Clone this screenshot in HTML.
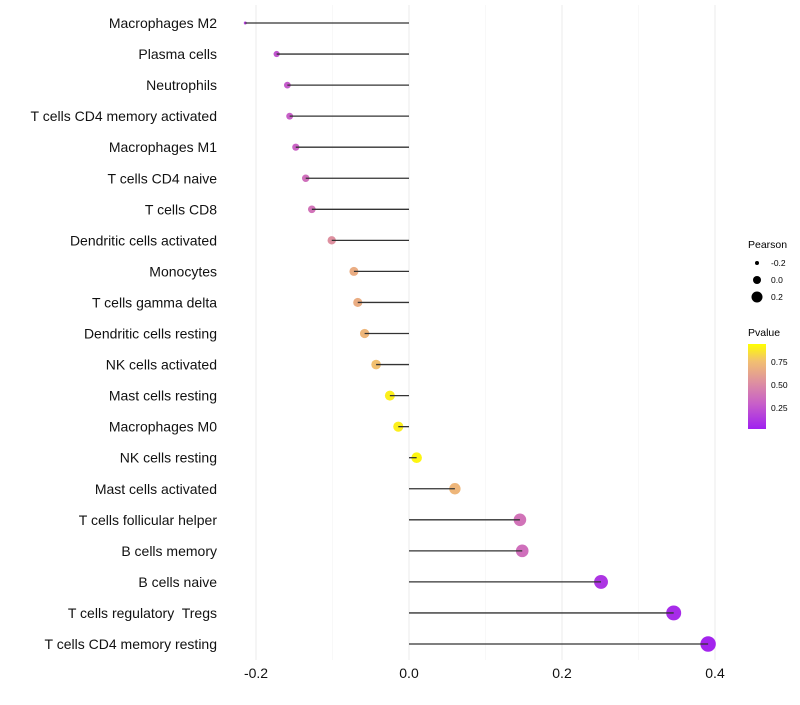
<!DOCTYPE html>
<html><head><meta charset="utf-8"><style>
body{margin:0;background:#fff;font-family:"Liberation Sans",sans-serif}
</style></head><body>
<svg id="chart" width="800" height="700" xmlns="http://www.w3.org/2000/svg">
<defs><linearGradient id="pg" x1="0" y1="1" x2="0" y2="0">
<stop offset="0" stop-color="#a020f0"/><stop offset="0.3" stop-color="#c860c8"/><stop offset="0.55" stop-color="#de90a0"/><stop offset="0.8" stop-color="#f2c070"/><stop offset="1" stop-color="#ffff00"/></linearGradient></defs>
<g id="grid"></g><g id="points"></g><g id="marks"></g><g id="labels"></g>
<g font-size="10" fill="#000">
<text x="748" y="248" font-size="10.5">Pearson</text>
<circle cx="757" cy="263" r="2" fill="#000"/><text x="771" y="266" font-size="8.5">-0.2</text>
<circle cx="757" cy="280" r="4" fill="#000"/><text x="771" y="283" font-size="8.5">0.0</text>
<circle cx="757" cy="297" r="5.5" fill="#000"/><text x="771" y="300" font-size="8.5">0.2</text>
<text x="748" y="336" font-size="10.5">Pvalue</text>
<rect x="748" y="344" width="18" height="85" fill="url(#pg)"/>
<text x="771" y="365" font-size="8.5">0.75</text>
<text x="771" y="388" font-size="8.5">0.50</text>
<text x="771" y="411" font-size="8.5">0.25</text>
</g>
</svg>
<script>
const cells=["Macrophages M2","Plasma cells","Neutrophils","T cells CD4 memory activated","Macrophages M1","T cells CD4 naive","T cells CD8","Dendritic cells activated","Monocytes","T cells gamma delta","Dendritic cells resting","NK cells activated","Mast cells resting","Macrophages M0","NK cells resting","Mast cells activated","T cells follicular helper","B cells memory","B cells naive","T cells regulatory  Tregs","T cells CD4 memory resting"];
const pearson=[-0.214,-0.173,-0.159,-0.156,-0.148,-0.135,-0.127,-0.101,-0.072,-0.067,-0.058,-0.043,-0.025,-0.014,0.010,0.060,0.145,0.148,0.251,0.346,0.391];
const pvalue=[0.15,0.25,0.28,0.3,0.32,0.38,0.4,0.55,0.7,0.7,0.75,0.8,0.95,0.95,0.97,0.75,0.4,0.38,0.1,0.05,0.02];
const xTicks=[-0.2,0,0.2,0.4];
const xTickLabels=["-0.2","0.0","0.2","0.4"];
const minorTicks=[-0.1,0.1,0.3];
const NS="http://www.w3.org/2000/svg";
const x=v=>409+v*765;
const y=i=>23+i*31.05;
const stops=[[0,[160,32,240]],[0.3,[200,96,200]],[0.55,[222,144,160]],[0.8,[242,192,112]],[1,[255,255,0]]];
function col(p){for(let k=1;k<stops.length;k++){if(p<=stops[k][0]){const a=stops[k-1],b=stops[k],t=(p-a[0])/(b[0]-a[0]);return "rgb("+a[1].map((c,j)=>Math.round(c+(b[1][j]-c)*t)).join(",")+")";}}return "rgb(255,255,0)";}
function mk(t,at,par){const e=document.createElementNS(NS,t);for(const k in at)e.setAttribute(k,at[k]);par.appendChild(e);return e;}
const G=document.getElementById("grid"),P=document.getElementById("points"),M=document.getElementById("marks"),L=document.getElementById("labels");
minorTicks.forEach(v=>{const l=mk("line",{x1:x(v),x2:x(v),y1:5,y2:660,stroke:"#f4f4f4","stroke-width":0.6},G);

});
xTicks.forEach((v,i)=>{const l=mk("line",{x1:x(v),x2:x(v),y1:5,y2:660,stroke:"#ebebeb","stroke-width":1},G);


const t=mk("text",{x:x(v),y:678,"text-anchor":"middle","font-size":14,fill:"#111"},L);t.textContent=xTickLabels[i];

});
cells.forEach((c,i)=>{
const r=1.5+8*Math.sqrt(Math.max(0,pearson[i]+0.214));
const ci=mk("circle",{cx:x(pearson[i]),cy:y(i),r:r,fill:col(pvalue[i])},P);


const ln=mk("line",{x1:x(0),x2:x(pearson[i]),y1:y(i),y2:y(i),stroke:"#333","stroke-width":1.3},M);


const t=mk("text",{x:217,y:y(i)+5,"text-anchor":"end","font-size":14,fill:"#111"},L);t.textContent=c;t.setAttribute("xml:space","preserve");t.style.whiteSpace="pre";

});
</script>
</body></html>
